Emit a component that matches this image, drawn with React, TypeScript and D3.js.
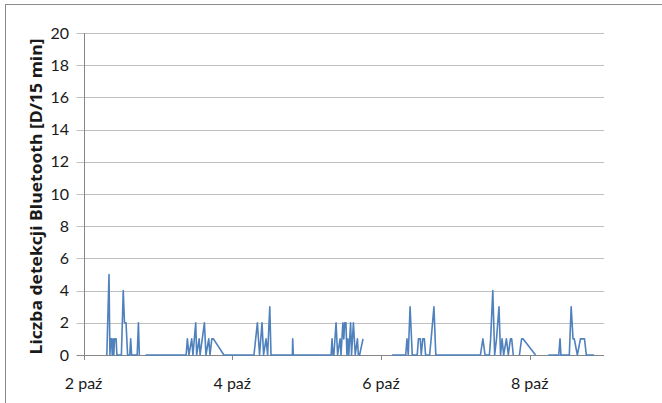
import React from "react";
import * as d3 from "d3";

// Hours after 2 Oct 00:00 and detection counts (null = missing data / gap)
const hours: number[] = [
  7.5, 8.2, 8.5, 8.75, 9.0, 9.25, 9.5, 9.75, 10.0, 10.5, 10.75,
  12.2, 12.5, 12.8, 13.2, 13.7, 14.2, 14.9, 15.2, 15.5, 17.3, 17.7, 18.0,
  19.0,
  20.0, 33.1, 33.5, 34.0, 34.9, 35.3, 36.2, 36.5, 37.3, 37.6, 39.0, 39.5,
  40.4, 40.8, 41.4, 41.9, 45.3, 55.0, 56.1, 56.8, 57.6, 58.1, 58.9, 59.4,
  60.1, 60.5, 67.4, 67.5, 67.7, 79.9, 80.2, 80.5, 80.8, 81.5, 82.0, 82.8,
  83.1, 83.7, 84.0, 84.3, 84.7, 85.0, 85.3, 85.6, 86.2, 86.5, 87.1, 87.7,
  88.4, 88.7, 89.1, 90.2,
  95.0,
  99.6, 103.5, 104.0, 104.4, 104.8, 105.4, 106.1, 107.7, 108.1, 108.7,
  109.0, 109.5, 110.0, 110.4, 111.7, 112.2, 113.1, 113.7, 128.1, 128.9,
  129.6, 131.0, 131.4, 132.1, 132.7, 133.3, 134.1, 134.6, 135.1, 135.6,
  136.5, 137.1, 137.8, 138.2, 138.7,
  139.5,
  140.7, 141.4, 141.9, 145.9,
  148.0,
  150.0, 153.4, 153.8, 154.1, 156.8, 157.4, 158.0, 158.4, 159.4, 160.4,
  161.7, 162.3, 164.8,
];
const counts: (number | null)[] = [
  0, 5, 0, 1, 1, 0, 1, 0, 1, 1, 0,
  0, 2, 4, 2, 2, 0, 0, 1, 0, 0, 2, 0,
  null,
  0, 0, 1, 0, 1, 0, 2, 0, 1, 0, 2, 0,
  1, 0, 1, 1, 0, 0, 2, 0, 2, 0, 1, 0,
  3, 0, 0, 1, 0, 0, 1, 0, 0, 2, 0, 1,
  0, 2, 1, 2, 2, 0, 1, 0, 2, 0, 2, 0,
  1, 0, 0, 1,
  null,
  0, 0, 0, 1, 0, 3, 0, 0, 1, 1,
  0, 1, 1, 0, 0, 1, 3, 0, 0, 1,
  0, 0, 1, 4, 0, 1, 3, 0, 1, 0,
  1, 0, 1, 1, 0,
  null,
  0, 1, 1, 0,
  null,
  0, 0, 1, 0, 0, 3, 1, 1, 0, 1,
  1, 0, 0,
];
const yTicks: number[] = [0, 2, 4, 6, 8, 10, 12, 14, 16, 18, 20];
const xTickDays: number[] = [2, 4, 6, 8];
const monthLabel = "paź";
const yTitle = "Liczba detekcji Bluetooth [D/15 min]";

const W = 662;
const H = 403;
const left = 83.6;
const right = 604;
const top = 33;
const bottom = 355;

const start = new Date(2014, 9, 2, 0, 0);
const end = new Date(2014, 9, 9, 0, 0);

export default function App() {
  const x = d3.scaleTime().domain([start, end]).range([left, right]);
  const y = d3.scaleLinear().domain([0, 20]).range([bottom, top]);
  const pts = hours.map((h, i) => ({
    t: new Date(start.getTime() + h * 3600 * 1000),
    v: counts[i],
  }));
  const line = d3
    .line<{ t: Date; v: number | null }>()
    .defined((d) => d.v !== null)
    .x((d) => x(d.t))
    .y((d) => y(d.v as number));
  const font = "Lato, 'Open Sans', sans-serif";

  return (
    <svg
      width={W}
      height={H}
      style={{ position: "absolute", left: 0, top: 0, background: "#fff" }}
    >
      <rect x={0} y={0} width={W} height={H} fill="#fff" />
      <line x1={5} y1={4.5} x2={W} y2={4.5} stroke="#8c8c8c" strokeWidth={1} />
      <line x1={5.5} y1={4} x2={5.5} y2={H} stroke="#8c8c8c" strokeWidth={1} />
      {yTicks.map((t) => (
        <g key={t}>
          <line
            x1={left - 7}
            x2={right}
            y1={Math.round(y(t)) + 0.5}
            y2={Math.round(y(t)) + 0.5}
            stroke={t === 0 ? "#868686" : "#bfbfbf"}
            strokeWidth={1}
          />
          <text
            x={69}
            y={y(t)}
            dy="0.35em"
            textAnchor="end"
            fontFamily={font}
            fontSize={16}
            fill="#1a1a1a"
          >
            {t}
          </text>
        </g>
      ))}
      <line
        x1={Math.round(left) + 0.5}
        x2={Math.round(left) + 0.5}
        y1={top}
        y2={bottom + 5}
        stroke="#868686"
      />
      {xTickDays.map((d) => {
        const xx = x(new Date(2014, 9, d));
        return (
          <g key={d}>
            <line
              x1={Math.round(xx) + 0.5}
              x2={Math.round(xx) + 0.5}
              y1={bottom}
              y2={bottom + 5}
              stroke="#868686"
            />
            <text
              x={xx}
              y={383}
              dy="0.35em"
              textAnchor="middle"
              fontFamily={font}
              fontSize={16}
              fill="#1a1a1a"
            >
              {`${d} ${monthLabel}`}
            </text>
          </g>
        );
      })}
      <path
        d={line(pts) || ""}
        fill="none"
        stroke="#4f81bd"
        strokeWidth={1.6}
        strokeLinejoin="round"
      />
      <text
        transform={`translate(36,${(38 + 355) / 2}) rotate(-90)`}
        textAnchor="middle"
        dy="0.35em"
        fontFamily="'Open Sans', Lato, sans-serif"
        fontWeight="bold"
        fontSize={16}
        textLength={316}
        lengthAdjust="spacingAndGlyphs"
        fill="#1a1a1a"
      >
        {yTitle}
      </text>
    </svg>
  );
}
